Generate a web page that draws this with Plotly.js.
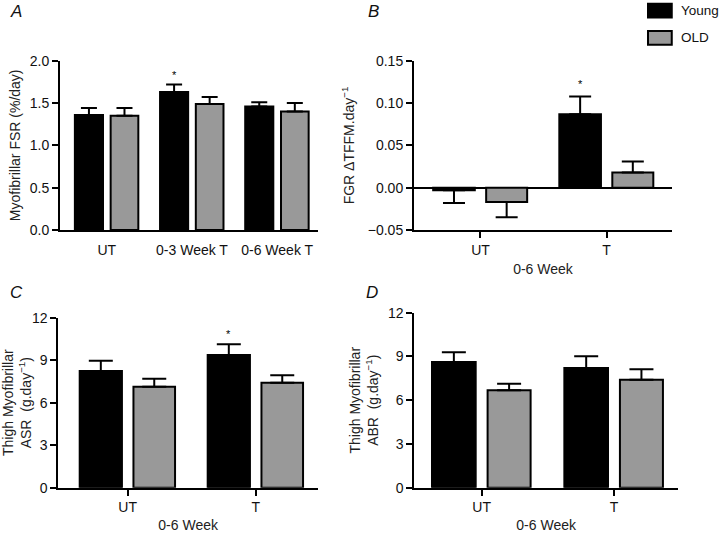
<!DOCTYPE html>
<html>
<head>
<meta charset="utf-8">
<script src="https://cdn.plot.ly/plotly-3.0.1.min.js"></script>
<style>
  body { margin: 0; background: #fff; }
  #plot { width: 720px; height: 533px; }
</style>
</head>
<body>
<div id="plot"></div>
<script>
// Panel A: myofibrillar FSR (%/day)
const catsA = ['UT', '0-3 Week T', '0-6 Week T'];
const youngA = [1.36, 1.63, 1.46];
const youngErrA = [0.08, 0.09, 0.05];
const oldA = [1.35, 1.49, 1.40];
const oldErrA = [0.09, 0.08, 0.10];

// Panel B: FGR, change in TFFM per day
const catsB = ['UT', 'T'];
const youngB = [-0.003, 0.087];
const youngErrB = [0.015, 0.021];
const oldB = [-0.017, 0.018];
const oldErrB = [0.018, 0.013];

// Panel C: thigh myofibrillar ASR
const catsC = ['UT', 'T'];
const youngC = [8.24, 9.37];
const youngErrC = [0.72, 0.75];
const oldC = [7.13, 7.41];
const oldErrC = [0.56, 0.52];

// Panel D: thigh myofibrillar ABR
const catsD = ['UT', 'T'];
const youngD = [8.62, 8.21];
const youngErrD = [0.66, 0.80];
const oldD = [6.68, 7.41];
const oldErrD = [0.45, 0.71];

// significance marks (index of Young bar with *)
const starA = [1];
const starB = [1];
const starC = [1];

const FONT = 'Liberation Sans, Arial, sans-serif';
const GREY = '#999999';

// one-sided error bars, pointing away from zero
function errBar(vals, errs, capw) {
  return {
    type: 'data',
    symmetric: false,
    array: vals.map((v, i) => (v >= 0 ? errs[i] : 0)),
    arrayminus: vals.map((v, i) => (v < 0 ? errs[i] : 0)),
    color: '#000',
    thickness: 2,
    width: capw,
  };
}

function pair(cats, young, yErr, old, oErr, n, capw) {
  const xa = 'x' + (n === 1 ? '' : n);
  const ya = 'y' + (n === 1 ? '' : n);
  return [
    {
      type: 'bar', x: cats, y: young, name: 'Young', xaxis: xa, yaxis: ya,
      offset: -0.375, width: 0.33,
      marker: { color: '#000', line: { color: '#000', width: 2 } },
      error_y: errBar(young, yErr, capw),
      showlegend: false, cliponaxis: false,
    },
    {
      type: 'bar', x: cats, y: old, name: 'OLD', xaxis: xa, yaxis: ya,
      offset: 0.045, width: 0.325,
      marker: { color: GREY, line: { color: '#000', width: 2 } },
      error_y: errBar(old, oErr, capw),
      showlegend: false, cliponaxis: false,
    },
  ];
}

const data = [
  ...pair(catsA, youngA, youngErrA, oldA, oldErrA, 1, 8),
  ...pair(catsB, youngB, youngErrB, oldB, oldErrB, 2, 11),
  ...pair(catsC, youngC, youngErrC, oldC, oldErrC, 3, 12),
  ...pair(catsD, youngD, youngErrD, oldD, oldErrD, 4, 12),
];

function xAx(domain, range, anchor, ticks) {
  return {
    domain: domain, range: range, anchor: anchor,
    type: 'category', showgrid: false, zeroline: false,
    showline: true, linecolor: '#000', linewidth: 2,
    ticks: 'outside', ticklen: 6, tickwidth: 2,
    tickcolor: ticks ? '#000' : 'rgba(0,0,0,0)',
    tickfont: { family: FONT, size: 14, color: '#111' },
    fixedrange: true,
  };
}

function yAx(domain, range, anchor, dtick, fmt, title, standoff) {
  return {
    domain: domain, range: range, anchor: anchor,
    showgrid: false, zeroline: false,
    showline: true, linecolor: '#000', linewidth: 2,
    ticks: 'outside', ticklen: 6, tickwidth: 2, tickcolor: '#000',
    tick0: 0, dtick: dtick, tickformat: fmt,
    tickfont: { family: FONT, size: 14, color: '#111' },
    title: { text: title, font: { family: FONT, size: 14, color: '#222' }, standoff: standoff },
    fixedrange: true,
  };
}

const xTitle = { text: '0-6 Week', font: { family: FONT, size: 14, color: '#222' }, standoff: 7 };

const layout = {
  width: 720, height: 533,
  margin: { l: 0, r: 0, t: 0, b: 0 },
  paper_bgcolor: '#fff', plot_bgcolor: '#fff',
  showlegend: false,
  barmode: 'group',
  xaxis: xAx([0.0833, 0.4417], [-0.55, 2.48], 'y', false),
  yaxis: yAx([0.5685, 0.8861], [0, 2], 'x', 0.5, '.1f', 'Myofibrillar FSR (%/day)', 6),
  xaxis2: Object.assign(xAx([0.575, 0.9333], [-0.527, 1.518], 'y2', true), { title: xTitle }),
  yaxis2: Object.assign(
    yAx([0.5685, 0.8856], [-0.05, 0.15], 'x2', 0.05, '.2f', 'FGR ΔTFFM.day<sup>−1</sup>', 10),
    { zeroline: true, zerolinecolor: '#000', zerolinewidth: 2 }
  ),
  xaxis3: Object.assign(xAx([0.081, 0.4417], [-0.542, 1.487], 'y3', true), { title: xTitle }),
  yaxis3: yAx([0.085, 0.404], [0, 12], 'x3', 3, 'd', 'Thigh Myofibrillar<br>ASR  (g.day<sup>−1</sup>)', 6),
  xaxis4: Object.assign(xAx([0.5754, 0.9417], [-0.509, 1.484], 'y4', true), { title: xTitle }),
  yaxis4: yAx([0.085, 0.4133], [0, 12], 'x4', 3, 'd', 'Thigh Myofibrillar<br>ABR  (g.day<sup>−1</sup>)', 6),
  annotations: [],
  shapes: [],
};

// panel letters
[['A', 0.011, 0.978], ['B', 0.508, 0.978], ['C', 0.011, 0.451], ['D', 0.506, 0.451]].forEach(function (p) {
  layout.annotations.push({
    xref: 'paper', yref: 'paper', x: p[1], y: p[2], xanchor: 'left', yanchor: 'middle',
    text: '<i>' + p[0] + '</i>', showarrow: false,
    font: { family: FONT, size: 17, color: '#111' },
  });
});

// asterisks above Young bars
function stars(idx, vals, errs, xa, ya, pad) {
  idx.forEach(function (i) {
    layout.annotations.push({
      xref: xa, yref: ya, x: i - 0.21, y: vals[i] + errs[i], yshift: pad,
      text: '*', showarrow: false, xanchor: 'center', yanchor: 'bottom',
      font: { family: FONT, size: 11, color: '#000' },
    });
  });
}
stars(starA, youngA, youngErrA, 'x', 'y', 1);
stars(starB, youngB, youngErrB, 'x2', 'y2', 4);
stars(starC, youngC, youngErrC, 'x3', 'y3', 2);

// legend boxes
const legendItems = [['Young', '#000', 0.980], ['OLD', GREY, 0.929]];
legendItems.forEach(function (it) {
  layout.shapes.push({
    type: 'rect', xref: 'paper', yref: 'paper',
    x0: 0.9, x1: 0.933, y0: it[2] - 0.013, y1: it[2] + 0.013,
    fillcolor: it[1], line: { color: '#000', width: 2 },
  });
  layout.annotations.push({
    xref: 'paper', yref: 'paper', x: 0.943, y: it[2], xanchor: 'left', yanchor: 'middle',
    text: it[0], showarrow: false, font: { family: FONT, size: 13.5, color: '#111' },
  });
});

const config = { displayModeBar: false, staticPlot: true };

Plotly.newPlot('plot', data, layout, config);
</script>
</body>
</html>
